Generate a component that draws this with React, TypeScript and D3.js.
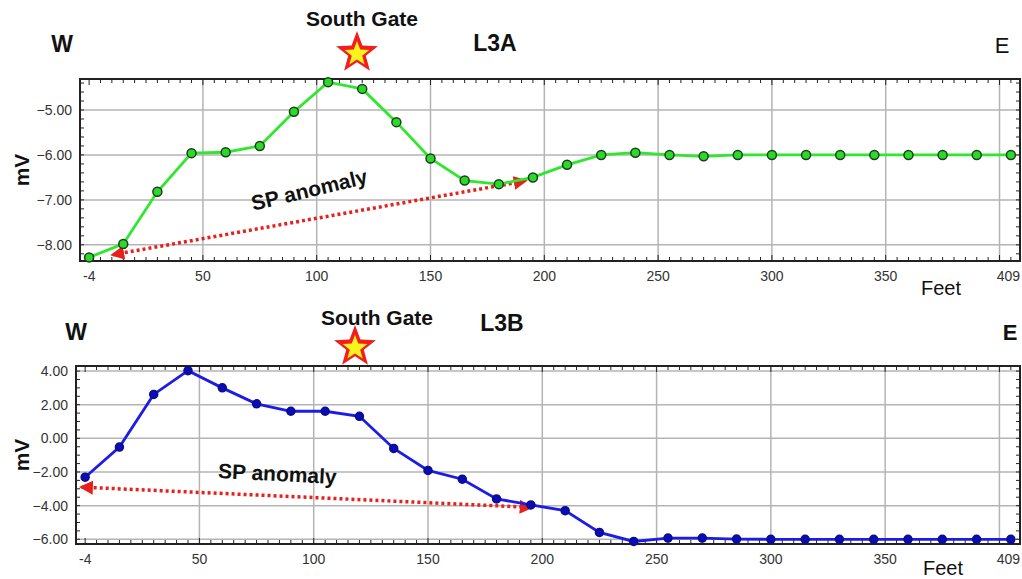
import React, { useRef, useEffect } from 'react'
import * as d3 from 'd3'

// survey stations (feet along the line)
const feet = [0, 15, 30, 45, 60, 75, 90, 105, 120, 135, 150, 165, 180, 195, 210, 225, 240, 255, 270, 285, 300, 315, 330, 345, 360, 375, 390, 405]

// SP readings (mV)
const l3a = [-8.28, -7.98, -6.82, -5.96, -5.94, -5.80, -5.04, -4.38, -4.53, -5.27, -6.08, -6.57, -6.65, -6.50, -6.22, -6.00, -5.95, -6.00, -6.03, -6.00, -6.00, -6.00, -6.00, -6.00, -6.00, -6.00, -6.00, -6.00]
const l3b = [-2.31, -0.52, 2.61, 4.02, 3.00, 2.05, 1.61, 1.61, 1.31, -0.60, -1.91, -2.43, -3.60, -3.96, -4.30, -5.59, -6.13, -5.93, -5.93, -5.99, -6.00, -6.00, -6.00, -6.00, -6.00, -6.00, -6.00, -6.00]

const xTicks = [50, 100, 150, 200, 250, 300, 350]
const xGrid = [50, 100, 150, 200, 250, 300, 350, 400]
const xEnds = ['-4', '409']
const yTicksA = [-5, -6, -7, -8]
const yTicksB = [4, 2, 0, -2, -4, -6]

// anomaly arrows: [feet, mV] start -> end
const arrowA = [[10.5, -8.22], [191.5, -6.58]]
const arrowB = [[-1.5, -2.9], [195, -4.1]]

const FONT = "Arial, 'Liberation Sans', sans-serif"

const starPath = (cx: number, cy: number, r: number) => {
  const pts: [number, number][] = []
  for (let i = 0; i < 10; i++) {
    const rr = i % 2 === 0 ? r : r * 0.42
    const a = -Math.PI / 2 + i * Math.PI / 5
    pts.push([cx + rr * Math.cos(a), cy + rr * Math.sin(a)])
  }
  return d3.line()(pts) + 'Z'
}

const drawPanel = (svg: any, cfg: any) => {
  const { left, right, top, bottom, yDomain, values, yTicks, yMinor, lineColor, dotFill, dotStroke, dotR, arrow } = cfg
  const g = svg.append('g')
  const x = d3.scaleLinear().domain([-4, 409]).range([left, right])
  const y = d3.scaleLinear().domain(yDomain).range([bottom, top])

  g.append('rect').attr('x', left).attr('y', top).attr('width', right - left).attr('height', bottom - top).attr('fill', '#fff')

  // grid
  g.selectAll('.vg').data(xGrid).enter().append('line')
    .attr('x1', (d: number) => x(d)).attr('x2', (d: number) => x(d))
    .attr('y1', top).attr('y2', bottom).attr('stroke', '#b4b4b4').attr('stroke-width', 1.5)
  g.selectAll('.hg').data(yTicks).enter().append('line')
    .attr('x1', left).attr('x2', right)
    .attr('y1', (d: number) => y(d)).attr('y2', (d: number) => y(d)).attr('stroke', '#b4b4b4').attr('stroke-width', 1.5)

  // minor ticks
  const xm = d3.range(0, 409, 5)
  g.selectAll('.xmt').data(xm).enter().append('line')
    .attr('x1', (d: number) => x(d)).attr('x2', (d: number) => x(d))
    .attr('y1', top).attr('y2', (d: number) => top + (d % 50 === 0 ? 6 : 4)).attr('stroke', '#222').attr('stroke-width', 1)
  g.selectAll('.xmb').data(xm).enter().append('line')
    .attr('x1', (d: number) => x(d)).attr('x2', (d: number) => x(d))
    .attr('y1', bottom).attr('y2', (d: number) => bottom - (d % 50 === 0 ? 6 : 4)).attr('stroke', '#222').attr('stroke-width', 1)
  const ym = d3.range(Math.ceil(yDomain[0] / yMinor) * yMinor, yDomain[1], yMinor)
  g.selectAll('.yml').data(ym).enter().append('line')
    .attr('x1', left).attr('x2', left + 4)
    .attr('y1', (d: number) => y(d)).attr('y2', (d: number) => y(d)).attr('stroke', '#222').attr('stroke-width', 1)
  g.selectAll('.ymr').data(ym).enter().append('line')
    .attr('x1', right).attr('x2', right - 4)
    .attr('y1', (d: number) => y(d)).attr('y2', (d: number) => y(d)).attr('stroke', '#222').attr('stroke-width', 1)

  g.append('rect').attr('x', left).attr('y', top).attr('width', right - left).attr('height', bottom - top)
    .attr('fill', 'none').attr('stroke', '#222').attr('stroke-width', 2)

  // tick labels
  g.selectAll('.xl').data(xTicks).enter().append('text')
    .attr('x', (d: number) => x(d)).attr('y', bottom + 20).attr('text-anchor', 'middle')
    .attr('font-family', FONT).attr('font-size', 14).attr('fill', '#333').text((d: number) => d)
  g.append('text').attr('x', left + 3).attr('y', bottom + 20).attr('font-family', FONT).attr('font-size', 14).attr('fill', '#333').text(xEnds[0])
  g.append('text').attr('x', right).attr('y', bottom + 20).attr('text-anchor', 'end').attr('font-family', FONT).attr('font-size', 14).attr('fill', '#333').text(xEnds[1])
  g.selectAll('.yl').data(yTicks).enter().append('text')
    .attr('x', left - 8).attr('y', (d: number) => y(d) + 5).attr('text-anchor', 'end')
    .attr('font-family', FONT).attr('font-size', 14).attr('fill', '#333').text((d: number) => d3.format('.2f')(d))

  // arrow
  const defsId = cfg.id
  const defs = g.append('defs')
  defs.append('marker').attr('id', defsId).attr('viewBox', '0 0 10 10').attr('refX', 8).attr('refY', 5)
    .attr('markerWidth', 4).attr('markerHeight', 4).attr('markerUnits', 'strokeWidth').attr('orient', 'auto-start-reverse')
    .append('path').attr('d', 'M0,0L10,5L0,10Z').attr('fill', '#e8201c')
  g.append('line')
    .attr('x1', x(arrow[0][0])).attr('y1', y(arrow[0][1]))
    .attr('x2', x(arrow[1][0])).attr('y2', y(arrow[1][1]))
    .attr('stroke', '#e8201c').attr('stroke-width', 3.5).attr('stroke-dasharray', '3,3')
    .attr('marker-start', `url(#${defsId})`).attr('marker-end', `url(#${defsId})`)

  // series
  const line = d3.line<number>().x((_, i) => x(feet[i])).y(d => y(d))
  g.append('path').datum(values).attr('d', line).attr('fill', 'none').attr('stroke', lineColor).attr('stroke-width', 2.8)
  g.selectAll('.dot').data(values).enter().append('circle')
    .attr('cx', (_: number, i: number) => x(feet[i])).attr('cy', (d: number) => y(d)).attr('r', dotR)
    .attr('fill', dotFill).attr('stroke', dotStroke).attr('stroke-width', 1.5)

  // annotation text
  g.append('text').attr('transform', `translate(${cfg.sp[0]},${cfg.sp[1]}) rotate(${cfg.sp[2]})`)
    .attr('text-anchor', 'middle').attr('font-family', FONT).attr('font-weight', 'bold').attr('font-size', 21).attr('fill', '#111')
    .text('SP anomaly')

  // headings
  const label = (tx: string, lx: number, ly: number, size: number, bold: boolean, anchor = 'middle') =>
    g.append('text').attr('x', lx).attr('y', ly).attr('text-anchor', anchor).attr('font-family', FONT)
      .attr('font-size', size).attr('font-weight', bold ? 'bold' : 'normal').attr('fill', '#111').text(tx)
  label('W', cfg.w[0], cfg.w[1], 23, true)
  label('South Gate', cfg.sg[0], cfg.sg[1], 21, true)
  label(cfg.title, cfg.t[0], cfg.t[1], 23, true)
  label('E', cfg.e[0], cfg.e[1], 22, cfg.eBold)
  label('Feet', cfg.feet[0], cfg.feet[1], 20, false)
  g.append('text').attr('transform', `translate(29,${(top + bottom) / 2}) rotate(-90)`).attr('text-anchor', 'middle')
    .attr('font-family', FONT).attr('font-size', 21).attr('font-weight', 'bold').attr('fill', '#111').text('mV')

  g.append('path').attr('d', starPath(cfg.star[0], cfg.star[1], 22)).attr('fill', '#f21d1d')
  g.append('path').attr('d', starPath(cfg.star[0], cfg.star[1] + 1, 13)).attr('fill', '#f7f31c')
}

const SPProfiles = () => {
  const svgRef = useRef<SVGSVGElement>(null)

  useEffect(() => {
    const svg = d3.select(svgRef.current)
    svg.selectAll('*').remove()

    drawPanel(svg, {
      id: 'arrA', left: 80, right: 1020, top: 79, bottom: 261, yDomain: [-8.36, -4.31], values: l3a,
      yTicks: yTicksA, yMinor: 0.2, lineColor: '#2ee82e', dotFill: '#2bd92b', dotStroke: '#1d3d1d', dotR: 4.5,
      arrow: arrowA, sp: [311, 197, -13.5], w: [62, 52], sg: [362, 26], t: [495, 51], e: [1002, 53], eBold: false,
      feet: [941, 295], star: [357, 53], title: 'L3A',
    })
    drawPanel(svg, {
      id: 'arrB', left: 76, right: 1020, top: 366, bottom: 544, yDomain: [-6.28, 4.3], values: l3b,
      yTicks: yTicksB, yMinor: 0.5, lineColor: '#1c1ce6', dotFill: '#0c0cb4', dotStroke: '#0c0c8c', dotR: 4,
      arrow: arrowB, sp: [277, 481, 3], w: [76, 340], sg: [377, 325], t: [502, 331], e: [1010, 340], eBold: true,
      feet: [943, 575], star: [355, 347], title: 'L3B',
    })
  }, [])

  return (
    <svg ref={svgRef} width={1022} height={579} style={{ position: 'absolute', left: 0, top: 0, background: '#fff' }}></svg>
  )
}

export default function App() {
  return <SPProfiles />
}
